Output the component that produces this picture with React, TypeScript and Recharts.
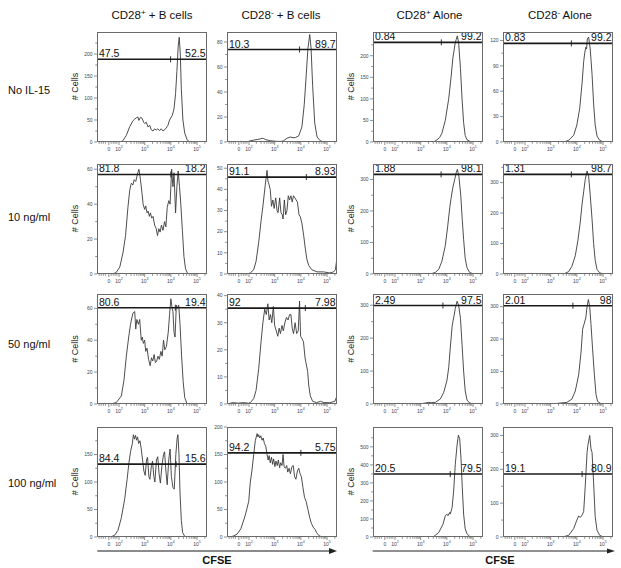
import React from "react";
import { LineChart, Line, XAxis, YAxis, ReferenceLine, ReferenceDot } from "recharts";

const FONT = '"Liberation Sans", Arial, Helvetica, sans-serif';

// x is in display decades (2 = 10^2 ... 5 = 10^5), 0 sits near 1.63
const X_DOMAIN: [number, number] = [1.18, 5.38];
const xMajor = [1.63, 2.02, 3, 4, 5];
const xMajorLabels = [["0", ""], ["10", "2"], ["10", "3"], ["10", "4"], ["10", "5"]];
const xMinor = [
  1.26, 1.34, 1.42, 1.5, 1.72, 1.8, 1.87, 1.94,
  2.3, 2.48, 2.6, 2.7, 2.78, 2.85, 2.9, 2.95,
  3.3, 3.48, 3.6, 3.7, 3.78, 3.85, 3.9, 3.95,
  4.3, 4.48, 4.6, 4.7, 4.78, 4.85, 4.9, 4.95, 5.3,
];

const columnTitles = [
  ["CD28", "+", " +  B cells"],
  ["CD28", "-", " +  B cells"],
  ["CD28", "+", " Alone"],
  ["CD28", "-", " Alone"],
];
const rowLabels = ["No IL-15", "10 ng/ml", "50 ng/ml", "100 ng/ml"];

// histogram traces: [decade, # cells]
const r1c1 = [[1.18,0],[2.1,0],[2.17,3],[2.3,15],[2.43,35],[2.55,48],[2.62,52],[2.68,55],[2.74,57],[2.78,49],[2.84,56],[2.9,54],[2.96,45],[3.0,42],[3.06,45],[3.13,34],[3.19,38],[3.25,28],[3.32,25],[3.38,30],[3.44,27],[3.5,30],[3.57,26],[3.63,30],[3.7,25],[3.8,30],[3.89,38],[3.95,50],[4.05,60],[4.12,75],[4.18,110],[4.23,160],[4.28,218],[4.32,238],[4.36,200],[4.4,120],[4.46,50],[4.53,20],[4.62,5],[4.72,0],[5.38,0]];
const r1c2 = [[1.18,0],[1.6,0],[1.7,0.5],[1.94,0],[2.07,1],[2.2,1.5],[2.33,2],[2.45,2.5],[2.52,3],[2.58,2.8],[2.64,2],[2.83,1],[3.09,0.5],[3.25,0.5],[3.34,1],[3.47,3],[3.6,4],[3.7,3.5],[3.79,3.5],[3.92,5],[4.04,12],[4.13,30],[4.21,55],[4.27,75],[4.34,86],[4.39,75],[4.45,45],[4.53,15],[4.62,4],[4.74,1],[4.87,0],[5.38,0]];
const r1c3 = [[1.18,0],[3.5,0],[3.62,5],[3.72,10],[3.81,20],[3.94,50],[4.07,100],[4.16,150],[4.23,195],[4.32,230],[4.36,238],[4.4,246],[4.45,230],[4.52,170],[4.58,100],[4.64,45],[4.7,15],[4.77,5],[4.9,1],[5.02,0],[5.38,0]];
const r1c4 = [[1.18,0],[3.5,0],[3.69,2],[3.88,8],[4.0,20],[4.11,40],[4.2,70],[4.26,95],[4.3,105],[4.34,112],[4.37,110],[4.4,122],[4.45,124],[4.51,110],[4.58,80],[4.64,45],[4.7,20],[4.77,7],[4.87,2],[5.02,0],[5.38,0]];

const r2c1 = [[1.18,0],[1.79,0],[1.92,1],[2.05,4],[2.17,12],[2.27,22],[2.36,38],[2.43,48],[2.49,52],[2.55,51],[2.6,54],[2.66,53],[2.72,57],[2.78,60],[2.84,54],[2.9,46],[2.94,40],[3.0,37],[3.04,39],[3.09,35],[3.13,36],[3.18,33],[3.22,35],[3.27,32],[3.32,33],[3.38,28],[3.44,26],[3.49,22],[3.54,26],[3.59,24],[3.64,28],[3.7,25],[3.76,30],[3.81,27],[3.86,38],[3.92,42],[3.97,40],[4.03,60],[4.08,50],[4.12,58],[4.18,35],[4.23,50],[4.28,59],[4.33,50],[4.38,40],[4.44,25],[4.5,10],[4.56,3],[4.65,0],[5.38,0]];
const r2c2 = [[1.18,0],[1.94,0],[2.07,0.5],[2.2,2],[2.29,6],[2.39,15],[2.48,25],[2.55,32],[2.64,42],[2.71,49],[2.74,44],[2.77,43],[2.83,40],[2.88,32],[2.93,35],[2.98,31],[3.04,36],[3.09,30],[3.13,29],[3.19,36],[3.24,29],[3.29,28],[3.32,26],[3.37,35],[3.42,28],[3.47,30],[3.52,37],[3.57,35],[3.62,37],[3.67,34],[3.72,37],[3.77,36],[3.82,35],[3.87,34],[3.93,28],[3.98,27],[4.04,24],[4.11,18],[4.17,12],[4.23,7],[4.3,4],[4.42,2],[4.62,1],[4.87,1],[5.1,0.5],[5.25,1],[5.32,2],[5.38,8]];
const r2c3 = [[1.18,0],[3.37,0],[3.56,5],[3.69,15],[3.81,40],[3.94,90],[4.03,150],[4.11,210],[4.16,240],[4.23,275],[4.3,300],[4.36,322],[4.4,332],[4.46,310],[4.53,250],[4.59,170],[4.64,110],[4.7,50],[4.77,20],[4.87,5],[5.02,0],[5.38,0]];
const r2c4 = [[1.18,0],[3.5,0],[3.69,8],[3.81,25],[3.94,60],[4.04,110],[4.13,170],[4.2,230],[4.26,270],[4.32,310],[4.39,338],[4.45,320],[4.51,260],[4.58,180],[4.64,100],[4.7,45],[4.77,15],[4.87,4],[5.02,0],[5.38,0]];

const r3c1 = [[1.18,0],[1.73,0],[1.92,1],[2.11,5],[2.21,15],[2.3,30],[2.39,42],[2.46,50],[2.55,57],[2.62,58],[2.66,47],[2.7,53],[2.76,50],[2.81,53],[2.87,40],[2.91,42],[2.95,38],[3.0,40],[3.04,33],[3.09,35],[3.15,28],[3.21,24],[3.26,29],[3.31,27],[3.36,31],[3.41,26],[3.46,27],[3.51,30],[3.56,28],[3.62,33],[3.67,30],[3.72,40],[3.77,34],[3.83,36],[3.9,45],[3.95,56],[4.0,66],[4.05,60],[4.08,58],[4.12,45],[4.16,42],[4.21,62],[4.26,60],[4.3,62],[4.35,50],[4.41,30],[4.47,14],[4.53,4],[4.62,0],[5.38,0]];
const r3c2 = [[1.18,0],[1.4,0.5],[1.6,0.3],[1.8,0.5],[2.0,0.3],[2.07,0.5],[2.2,2],[2.29,5],[2.39,13],[2.48,23],[2.55,30],[2.62,35],[2.68,33],[2.74,37],[2.79,31],[2.84,33],[2.89,30],[2.95,36],[3.0,29],[3.06,27],[3.12,25],[3.17,28],[3.22,26],[3.28,29],[3.33,27],[3.39,30],[3.45,32],[3.51,31],[3.57,33],[3.62,33],[3.67,28],[3.72,26],[3.78,30],[3.84,26],[3.9,27],[3.95,38],[3.99,25],[4.05,24],[4.1,23],[4.16,17],[4.2,15],[4.26,12],[4.3,7],[4.36,3],[4.45,1],[4.6,0.5],[4.75,1],[4.88,0.5],[5.1,0.5],[5.3,1],[5.38,3]];
const r3c3 = [[1.18,0],[2.99,0],[3.18,3],[3.3,5],[3.4,4],[3.56,5],[3.75,15],[3.88,35],[4.0,70],[4.07,110],[4.13,170],[4.2,235],[4.23,250],[4.28,270],[4.32,290],[4.39,312],[4.45,300],[4.52,260],[4.58,180],[4.64,100],[4.7,40],[4.77,12],[4.87,3],[5.02,0],[5.38,0]];
const r3c4 = [[1.18,0],[3.11,0],[3.37,3],[3.62,5],[3.81,15],[3.94,40],[4.07,90],[4.16,160],[4.22,230],[4.27,245],[4.34,265],[4.39,300],[4.44,322],[4.49,300],[4.54,245],[4.6,170],[4.67,90],[4.73,30],[4.79,8],[4.9,2],[5.02,0],[5.38,0]];

const r4c1 = [[1.18,0],[1.69,0],[1.85,3],[1.98,12],[2.11,35],[2.24,70],[2.33,105],[2.4,135],[2.46,155],[2.53,170],[2.57,186],[2.61,178],[2.65,185],[2.69,176],[2.73,182],[2.77,170],[2.82,175],[2.87,160],[2.92,140],[2.97,120],[3.02,112],[3.07,140],[3.11,145],[3.16,110],[3.2,105],[3.26,130],[3.3,138],[3.35,110],[3.39,100],[3.45,140],[3.5,146],[3.55,115],[3.6,98],[3.66,130],[3.72,150],[3.76,155],[3.81,120],[3.86,95],[3.92,140],[3.97,160],[4.02,110],[4.08,90],[4.13,87],[4.19,150],[4.24,180],[4.27,186],[4.31,150],[4.35,80],[4.4,30],[4.45,8],[4.53,1],[4.65,0],[5.38,0]];
const r4c2 = [[1.18,0],[1.31,0],[1.43,2],[1.56,5],[1.71,15],[1.88,40],[2.01,65],[2.07,100],[2.13,120],[2.2,150],[2.26,175],[2.33,188],[2.36,182],[2.39,186],[2.43,180],[2.47,184],[2.52,176],[2.56,180],[2.61,170],[2.66,165],[2.71,150],[2.75,140],[2.79,148],[2.83,135],[2.88,145],[2.92,132],[2.96,142],[3.01,128],[3.05,138],[3.1,130],[3.14,140],[3.19,126],[3.23,135],[3.28,130],[3.32,150],[3.36,128],[3.41,125],[3.46,130],[3.5,118],[3.55,125],[3.6,115],[3.66,128],[3.71,130],[3.76,110],[3.81,105],[3.87,120],[3.92,125],[3.97,115],[4.02,110],[4.08,90],[4.14,72],[4.2,65],[4.27,50],[4.34,35],[4.4,25],[4.47,18],[4.54,14],[4.6,8],[4.68,3],[4.8,0],[5.38,0]];
const r4c3 = [[1.18,0],[3.4,0],[3.5,3],[3.69,25],[3.85,70],[3.94,118],[4.0,127],[4.04,118],[4.11,136],[4.13,127],[4.2,163],[4.26,255],[4.32,400],[4.39,510],[4.44,565],[4.49,545],[4.54,436],[4.59,273],[4.64,127],[4.7,45],[4.77,18],[4.87,3],[5.02,0],[5.38,0]];
const r4c4 = [[1.18,0],[3.45,0],[3.69,5],[3.88,25],[4.0,50],[4.07,62],[4.13,58],[4.2,65],[4.26,75],[4.32,150],[4.39,250],[4.42,270],[4.49,300],[4.54,260],[4.58,250],[4.64,160],[4.7,60],[4.77,20],[4.87,5],[5.02,0],[5.38,0]];

const curves = [
  [r1c1, r1c2, r1c3, r1c4],
  [r2c1, r2c2, r2c3, r2c4],
  [r3c1, r3c2, r3c3, r3c4],
  [r4c1, r4c2, r4c3, r4c4],
];

const yMax = [
  [250, 88, 255, 130],
  [63, 52, 349, 361],
  [69, 40.6, 334, 339],
  [200, 200, 610, 325],
];
const yTicks = [
  [[0, 50, 100, 150, 200], [0, 20, 40, 60, 80], [0, 50, 100, 150, 200], [0, 30, 60, 90, 120]],
  [[0, 20, 40, 60], [0, 10, 20, 30, 40, 50], [0, 100, 200, 300], [0, 100, 200, 300]],
  [[0, 20, 40, 60], [0, 10, 20, 30, 40], [0, 100, 200, 300], [0, 100, 200, 300]],
  [[0, 50, 100, 150], [0, 50, 100, 150, 200], [0, 100, 200, 300, 400, 500], [0, 100, 200, 300]],
];
const gateLevel = [
  [188, 74, 231, 116.5],
  [57, 45.8, 316, 327],
  [60.4, 35.4, 299, 303],
  [132.5, 153, 349, 186],
];
const gateSplit = [
  [3.99, 3.95, 3.79, 3.79],
  [4.0, 4.21, 3.78, 3.79],
  [4.17, 4.17, 3.85, 3.85],
  [4.2, 4.0, 4.13, 4.2],
];
const gateLeftPct = [
  ["47.5", "10.3", "0.84", "0.83"],
  ["81.8", "91.1", "1.88", "1.31"],
  ["80.6", "92", "2.49", "2.01"],
  ["84.4", "94.2", "20.5", "19.1"],
];
const gateRightPct = [
  ["52.5", "89.7", "99.2", "99.2"],
  ["18.2", "8.93", "98.1", "98.7"],
  ["19.4", "7.98", "97.5", "98"],
  ["15.6", "5.75", "79.5", "80.9"],
];

// layout of the plot boxes
const colLeft = [97.3, 226.5, 372.7, 502.7];
const rowTop = [31.5, 163.5, 294, 426.5];
const BOX = 110;
const AXIS_W = 35;
const PAD_T = 5;

function XTick(props: any) {
  const { x, y, payload } = props;
  const i = xMajor.findIndex((m) => Math.abs(m - payload.value) < 1e-6);
  const major = i >= 0;
  return (
    <g>
      <line x1={x} x2={x} y1={y} y2={y + (major ? 3 : 1.8)} stroke="#444" strokeWidth={0.6} />
      {major && (
        <text x={x} y={y + 8.6} textAnchor="middle" fontSize={5} fill="#444" fontFamily={FONT}>
          {xMajorLabels[i][0]}
          {xMajorLabels[i][1] && (
            <tspan dy={-2.5} fontSize={3.6}>
              {xMajorLabels[i][1]}
            </tspan>
          )}
        </text>
      )}
    </g>
  );
}

function makeYTick(major: number[]) {
  return function YTick(props: any) {
    const { x, y, payload } = props;
    const isMajor = major.includes(payload.value);
    return (
      <g>
        <line x1={x} x2={x - (isMajor ? 3 : 1.8)} y1={y} y2={y} stroke="#444" strokeWidth={0.6} />
        {isMajor && (
          <text x={x - 4.5} y={y + 1.8} textAnchor="end" fontSize={5} fill="#444" fontFamily={FONT}>
            {payload.value}
          </text>
        )}
      </g>
    );
  };
}

function Panel({ row, col }: { row: number; col: number }) {
  const data = curves[row][col].map(([x, y]) => ({ x, y }));
  const major = yTicks[row][col];
  const step = major[1] - major[0];
  const all = [...major, ...major.map((v) => v + step / 2)].filter((v) => v <= yMax[row][col]).sort((a, b) => a - b);
  const left = gateLeftPct[row][col];
  const right = gateRightPct[row][col];

  const gateLabel = (p: any) => {
    const vb = p.viewBox || {};
    const x = vb.x ?? 0;
    const y = vb.y ?? 0;
    const w = vb.width ?? 0;
    return (
      <g>
        <line x1={x + 0.5} x2={x + 0.5} y1={y - 3} y2={y + 3} stroke="#1a1a1a" strokeWidth={0.9} />
        <line x1={x + w - 0.5} x2={x + w - 0.5} y1={y - 3} y2={y + 3} stroke="#1a1a1a" strokeWidth={0.9} />
        <text x={x + 2} y={y - 2} fontSize={10.5} fill="#111" fontFamily={FONT}>
          {left}
        </text>
        <text x={x + w - 1.5} y={y - 2} fontSize={10.5} fill="#111" textAnchor="end" fontFamily={FONT}>
          {right}
        </text>
      </g>
    );
  };

  return (
    <div style={{ position: "absolute", left: colLeft[col] - AXIS_W, top: rowTop[row] - PAD_T }}>
      <LineChart width={AXIS_W + BOX + 5} height={PAD_T + BOX + 18} data={data} margin={{ top: PAD_T, right: 5, left: 0, bottom: 0 }}>
        <XAxis
          type="number"
          dataKey="x"
          domain={X_DOMAIN}
          ticks={[...xMajor, ...xMinor].sort((a, b) => a - b)}
          interval={0}
          tick={<XTick />}
          tickLine={false}
          axisLine={false}
          tickSize={0}
          tickMargin={0}
          height={18}
          allowDataOverflow
        />
        <YAxis
          type="number"
          domain={[0, yMax[row][col]]}
          ticks={all}
          interval={0}
          tick={makeYTick(major)}
          tickLine={false}
          axisLine={false}
          tickSize={0}
          tickMargin={0}
          width={AXIS_W}
          allowDataOverflow
        />
        <Line type="linear" dataKey="y" stroke="#3a3a3a" strokeWidth={0.9} dot={false} isAnimationActive={false} />
        <ReferenceLine y={gateLevel[row][col]} stroke="#1a1a1a" strokeWidth={1.6} label={gateLabel} />
        <ReferenceDot
          x={gateSplit[row][col]}
          y={gateLevel[row][col]}
          r={3}
          shape={(p: any) => <line x1={p.cx} x2={p.cx} y1={p.cy - 3} y2={p.cy + 3} stroke="#1a1a1a" strokeWidth={0.9} />}
        />
      </LineChart>
      <div
        style={{
          position: "absolute",
          left: AXIS_W,
          top: PAD_T,
          width: BOX,
          height: BOX,
          border: "1px solid #6a6a6a",
          boxSizing: "border-box",
          pointerEvents: "none",
        }}
      />
    </div>
  );
}

const titleX = [152, 281, 429.5, 560];
const rowLabelY = [93.5, 220.5, 348, 486.5];

export default function App() {
  return (
    <div style={{ position: "absolute", left: 0, top: 0, width: 621, height: 568, background: "#fff", fontFamily: FONT }}>
      {rowTop.map((_, r) => colLeft.map((_, c) => <Panel key={`${r}-${c}`} row={r} col={c} />))}
      <svg width={621} height={568} style={{ position: "absolute", left: 0, top: 0, pointerEvents: "none" }}>
        {columnTitles.map((t, i) => (
          <text key={i} x={titleX[i]} y={18.5} textAnchor="middle" fontSize={11.5} fill="#111" fontFamily={FONT}>
            {t[0]}
            <tspan dy={-4} fontSize={8}>
              {t[1]}
            </tspan>
            <tspan dy={4}>{t[2]}</tspan>
          </text>
        ))}
        {rowLabels.map((t, i) => (
          <text key={t} x={8} y={rowLabelY[i]} fontSize={11} fill="#111" fontFamily={FONT}>
            {t}
          </text>
        ))}
        {rowTop.map((top, r) =>
          [0, 2].map((c) => {
            const cx = colLeft[c] - 19;
            const cy = top + BOX / 2;
            return (
              <text
                key={`${r}-${c}`}
                x={cx}
                y={cy}
                transform={`rotate(-90 ${cx} ${cy})`}
                textAnchor="middle"
                fontSize={9}
                fill="#222"
                fontFamily={FONT}
              >
                # Cells
              </text>
            );
          })
        )}
        <line x1={97.3} x2={331} y1={551} y2={551} stroke="#8a8a8a" strokeWidth={2} />
        <polygon points="329,548 337,551 329,554" fill="#222" />
        <line x1={372.7} x2={608} y1={551} y2={551} stroke="#222" strokeWidth={1} />
        <polygon points="607,548.5 615,551 607,553.5" fill="#222" />
        <text x={217} y={563.5} textAnchor="middle" fontSize={11} fontWeight="bold" fill="#111" fontFamily={FONT}>
          CFSE
        </text>
        <text x={500} y={563.5} textAnchor="middle" fontSize={11} fontWeight="bold" fill="#111" fontFamily={FONT}>
          CFSE
        </text>
      </svg>
    </div>
  );
}
